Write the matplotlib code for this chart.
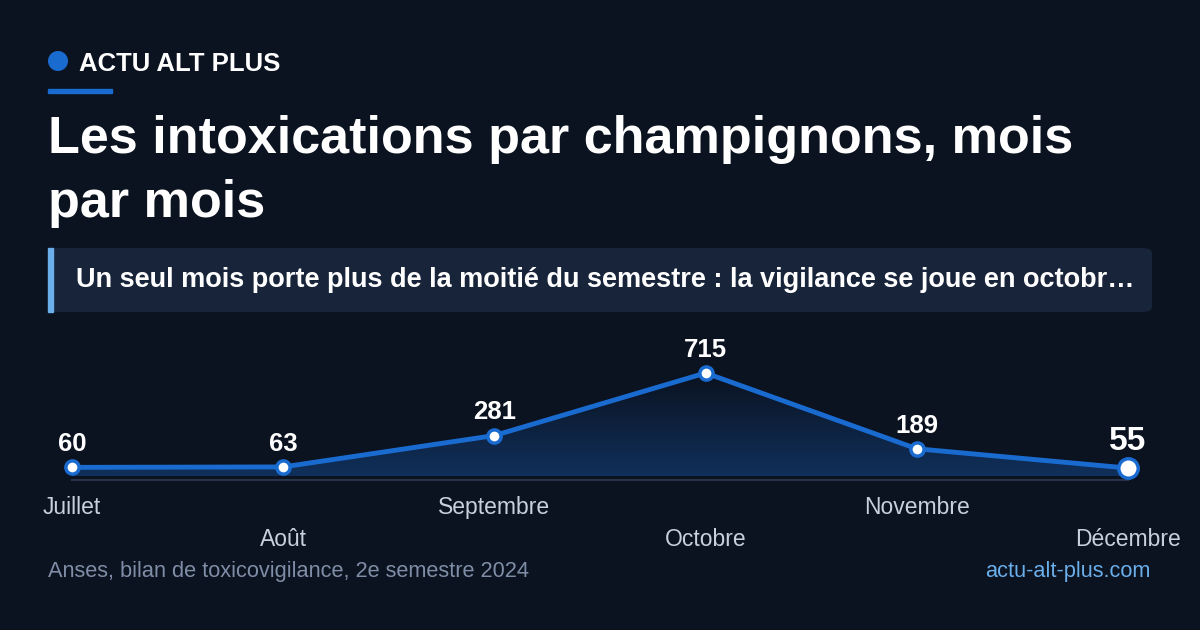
import matplotlib
matplotlib.use("Agg")
import matplotlib.pyplot as plt
import numpy as np
from matplotlib.patches import FancyBboxPatch, Rectangle, Ellipse, Polygon
from matplotlib.colors import LinearSegmentedColormap

months = ["Juillet", "Août", "Septembre", "Octobre", "Novembre", "Décembre"]
values = [60, 63, 281, 715, 189, 55]

plt.rcParams['font.family'] = ['Liberation Sans', 'DejaVu Sans']
BG = "#0b1220"
LINE = "#1a6bd0"
fig = plt.figure(figsize=(12, 6.3), dpi=100, facecolor=BG)

def px(x, y):
    return x / 1200, 1 - y / 630

# header
fig.patches.append(Ellipse(px(58, 61), 20/1200, 20/630, transform=fig.transFigure, color=LINE, ec='none'))
fig.text(*px(79, 64), "ACTU ALT PLUS", color="white", fontsize=18.5, fontweight="bold", va="center")
fig.patches.append(Rectangle(px(48, 93), 64/1200, 4/630, transform=fig.transFigure, color=LINE))
fig.text(*px(48, 140), "Les intoxications par champignons, mois", color="white",
         fontsize=37.5, fontweight="bold", va="center")
fig.text(*px(48, 203), "par mois", color="white",
         fontsize=37.5, fontweight="bold", va="center")
# subtitle box
fig.patches.append(FancyBboxPatch(px(48, 312), (1152-48)/1200, 64/630,
                                  boxstyle="round,pad=0,rounding_size=0.008",
                                  transform=fig.transFigure, color="#18243a", ec='none'))
fig.patches.append(Rectangle(px(48, 312), 5/1200, 64/630, transform=fig.transFigure, color="#6aaeea"))
fig.text(*px(76, 280), "Un seul mois porte plus de la moitié du semestre : la vigilance se joue en octobr…",
         color="white", fontsize=19.5, fontweight="bold", va="center")

# chart axes: value 0 at y=476, 715 at y=373
ax = fig.add_axes([72/1200, 1-476/630, 1056/1200, 103/630])
ax.set_facecolor("none")
ax.axis("off")
x = np.arange(len(values))
grad = np.linspace(0, 1, 256).reshape(-1, 1)
cmap = LinearSegmentedColormap.from_list("g", [(0.1, 0.42, 0.82, 0.35), (0.1, 0.42, 0.82, 0.0)])
im = ax.imshow(grad, extent=[0, 5, 715, -30], aspect="auto", cmap=cmap, origin="upper", zorder=1)
poly = Polygon(list(zip(x, values)) + [(5, -30), (0, -30)], closed=True, transform=ax.transData)
im.set_clip_path(poly)
ax.set_xlim(0, 5)
ax.set_ylim(0, 715)
ax.plot([0, 5], [-30, -30], color="#2a3448", lw=1.5, clip_on=False, zorder=2)
ax.plot(x, values, color=LINE, lw=3.5, zorder=3, clip_on=False)
for i, v in enumerate(values):
    last = i == len(values) - 1
    ax.plot(i, v, "o", ms=14 if last else 9.5, mfc="white", mec=LINE, mew=2.5, zorder=4, clip_on=False)
    ax.annotate(str(v), (i, v), xytext=(0, 8), textcoords="offset points", ha="center",
                va="bottom", color="white", fontsize=24 if last else 18.5, fontweight="bold")
    ax.annotate(months[i], (i, 0), xytext=(0, -20 if i % 2 == 0 else -52), textcoords="offset pixels",
                ha="center", va="top", color="#c8d0dc", fontsize=16.5, annotation_clip=False)

fig.text(*px(48, 571), "Anses, bilan de toxicovigilance, 2e semestre 2024", color="#7f8ea6", fontsize=15.7, va="center")
fig.text(*px(1151, 571), "actu-alt-plus.com", color="#6aaeea", fontsize=15.7, va="center", ha="right")
fig.savefig("out.png", facecolor=BG, dpi=100)
